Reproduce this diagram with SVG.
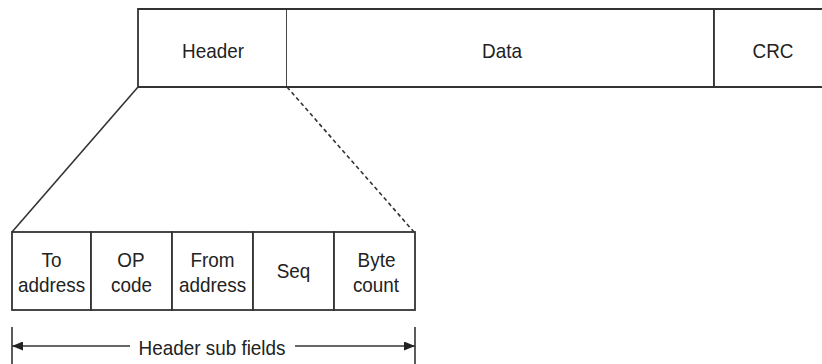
<svg xmlns="http://www.w3.org/2000/svg" width="822" height="364" viewBox="0 0 822 364">
<defs>
<style>
.b{fill:#fff;stroke:#333;stroke-width:1.8}
.l{fill:none;stroke:#333;stroke-width:1.6}
.t{font-family:"Liberation Sans",Arial,sans-serif;font-size:21px;fill:#222;text-anchor:middle}
</style>
<marker id="ah" markerWidth="11" markerHeight="9" refX="11" refY="4.5" orient="auto-start-reverse" markerUnits="userSpaceOnUse">
<path d="M0,0 L11,4.5 L0,9 Z" fill="#222"/>
</marker>
</defs>
<rect width="822" height="364" fill="#fff"/>
<g id="frame">
<g id="header"><path class="b" d="M138,87 V9 H287 V87 Z"/><text class="t" transform="translate(213,58) scale(0.9,1)">Header</text></g>
<g id="data"><path class="b" d="M287,9 H714 V87 H287"/><text class="t" transform="translate(502,58) scale(0.9,1)">Data</text></g>
<g id="crc"><path class="b" d="M714,9 H822 M822,87 H714 V9"/><text class="t" transform="translate(773,58) scale(0.9,1)">CRC</text></g>
</g>
<g id="connectors">
<line class="l" x1="138" y1="87" x2="12" y2="232"/>
<line class="l" x1="287" y1="87" x2="414" y2="232" stroke-dasharray="4,3"/>
<line class="l" x1="12" y1="327" x2="12" y2="364"/>
<line class="l" x1="415" y1="327" x2="415" y2="364"/>
<line class="l" x1="12" y1="346" x2="130" y2="346" marker-start="url(#ah)"/>
<line class="l" x1="295" y1="346" x2="415" y2="346" marker-end="url(#ah)"/>
</g>
<g id="to-address"><rect class="b" x="12" y="232" width="79" height="78"/><text class="t" transform="translate(51.5,267) scale(0.9,1)">To</text><text class="t" transform="translate(51.5,292) scale(0.9,1)">address</text></g>
<g id="op-code"><rect class="b" x="91" y="232" width="81" height="78"/><text class="t" transform="translate(131,267) scale(0.9,1)">OP</text><text class="t" transform="translate(131.5,292) scale(0.9,1)">code</text></g>
<g id="from-address"><rect class="b" x="172" y="232" width="81" height="78"/><text class="t" transform="translate(212.5,267) scale(0.9,1)">From</text><text class="t" transform="translate(212.5,292) scale(0.9,1)">address</text></g>
<g id="seq"><rect class="b" x="253" y="232" width="81" height="78"/><text class="t" transform="translate(293.5,278) scale(0.9,1)">Seq</text></g>
<g id="byte-count"><rect class="b" x="334" y="232" width="81" height="78"/><text class="t" transform="translate(376.5,267) scale(0.9,1)">Byte</text><text class="t" transform="translate(376,292) scale(0.9,1)">count</text></g>
<g id="label"><text class="t" transform="translate(212,355) scale(0.9,1)">Header sub fields</text></g>
</svg>
